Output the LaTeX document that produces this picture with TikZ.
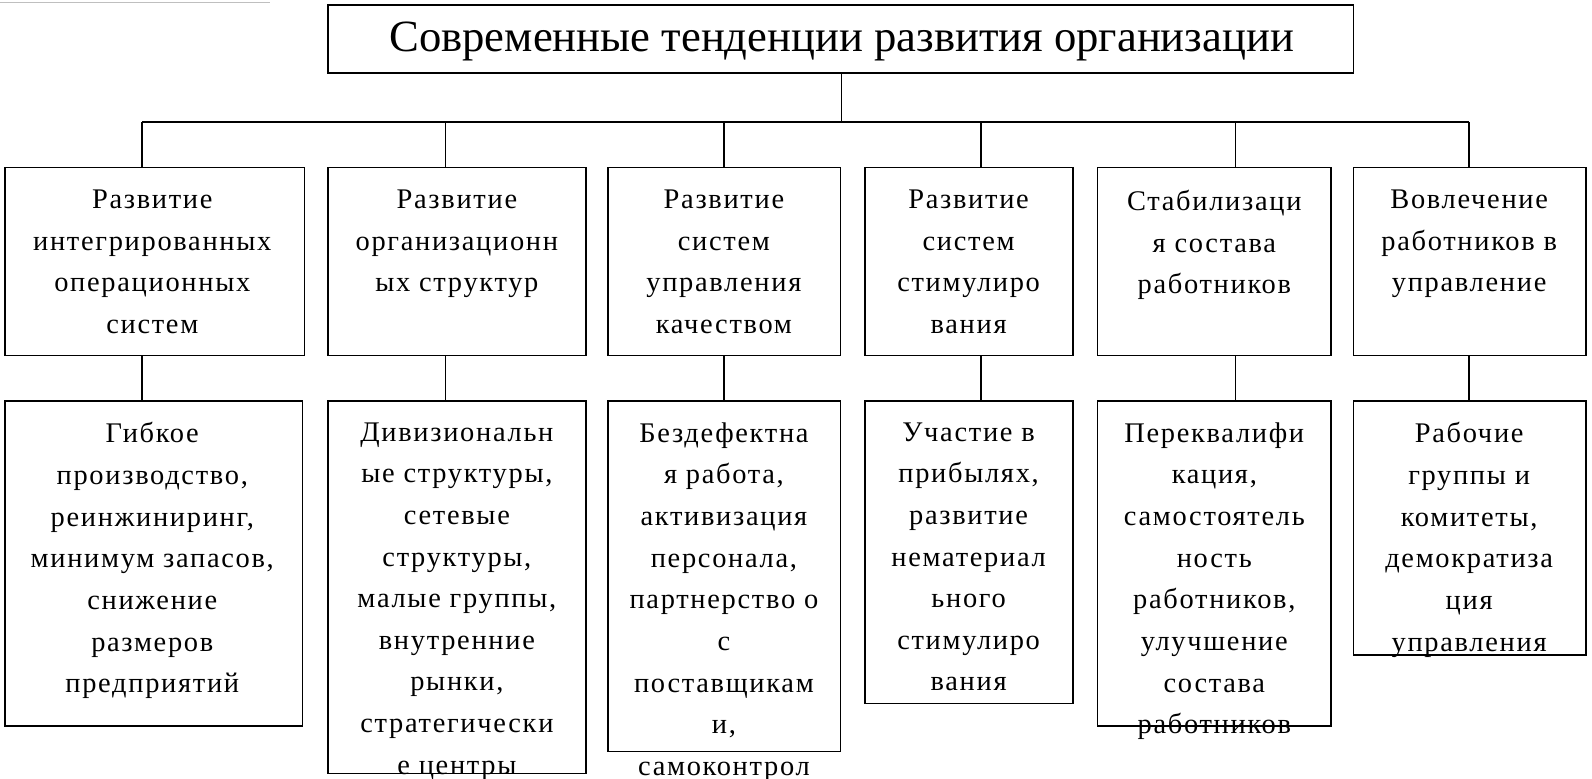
\documentclass[tikz,border=0pt]{standalone}
\usepackage{fontspec}
\setmainfont{Liberation Serif}
\newfontfamily\bodyfont[LetterSpace=6]{Liberation Serif}
\begin{document}
\begin{tikzpicture}[x=1pt,y=-1pt,
  boxs/.style={draw,line width=1.5pt},
  txt/.style={anchor=north,align=center,font=\bodyfont\fontsize{28}{41}\selectfont,inner sep=0pt},
  ln/.style={line width=1.5pt}]
\useasboundingbox (0,0) rectangle (1568,767);
\clip (0,0) rectangle (1568,767);
\draw[gray!50,line width=1pt] (0,2) -- (266,2);
\draw[boxs] (323,5) rectangle (1333,72);
\node[anchor=center,font=\fontsize{44}{48}\selectfont] (title) at (829,41) {Современные тенденции развития организации};
\coordinate (tb) at (829,72);
\coordinate (bus) at (829,120);
\draw[ln] (tb) -- (bus);
\draw[ln] (140,120) -- (1447,120);
\foreach \l/\r/\c/\n in {5/300/140/a,323/577/439/b,599/828/713/c,852/1057/966/d,1081/1311/1217/e,1333/1562/1447/f}{
  \draw[boxs] (\l,165) rectangle (\r,350);
  \coordinate (t\n) at (\c,165);
  \coordinate (b\n) at (\c,350);
  \coordinate (u\n) at (\c,120);
  \coordinate (l\n) at (\c,395);
  \draw[ln] (u\n) -- (t\n);
  \draw[ln] (b\n) -- (l\n);
}
\node[txt] (a1) at (150,187) {Развитие\\интегрированных\\операционных\\систем};
\node[txt] (b1) at (450,187) {Развитие\\организационн\\ых структур};
\node[txt] (c1) at (713,187) {Развитие\\систем\\управления\\качеством};
\node[txt] (d1) at (954,187) {Развитие\\систем\\стимулиро\\вания};
\node[txt] (e1) at (1196,187) {Стабилизаци\\я состава\\работников};
\node[txt] (f1) at (1447,187) {Вовлечение\\работников в\\управление};
\draw[boxs] (5,395) rectangle (298,715);
\draw[boxs] (323,395) rectangle (577,762);
\draw[boxs] (599,395) rectangle (828,740);
\draw[boxs] (852,395) rectangle (1057,693);
\draw[boxs] (1081,395) rectangle (1311,715);
\draw[boxs] (1333,395) rectangle (1562,645);
\node[txt] (a2) at (150,416) {Гибкое\\производство,\\реинжиниринг,\\минимум запасов,\\снижение\\размеров\\предприятий};
\node[txt] (b2) at (450,416) {Дивизиональн\\ые структуры,\\сетевые\\структуры,\\малые группы,\\внутренние\\рынки,\\стратегически\\е центры\\прибыли};
\node[txt] (c2) at (713,416) {Бездефектна\\я работа,\\активизация\\персонала,\\партнерство о\\с\\поставщикам\\и,\\самоконтрол\\ь};
\node[txt] (d2) at (954,416) {Участие в\\прибылях,\\развитие\\нематериал\\ьного\\стимулиро\\вания};
\node[txt] (e2) at (1196,416) {Переквалифи\\кация,\\самостоятель\\ность\\работников,\\улучшение\\состава\\работников};
\node[txt] (f2) at (1447,416) {Рабочие\\группы и\\комитеты,\\демократиза\\ция\\управления};
\end{tikzpicture}
\end{document}
